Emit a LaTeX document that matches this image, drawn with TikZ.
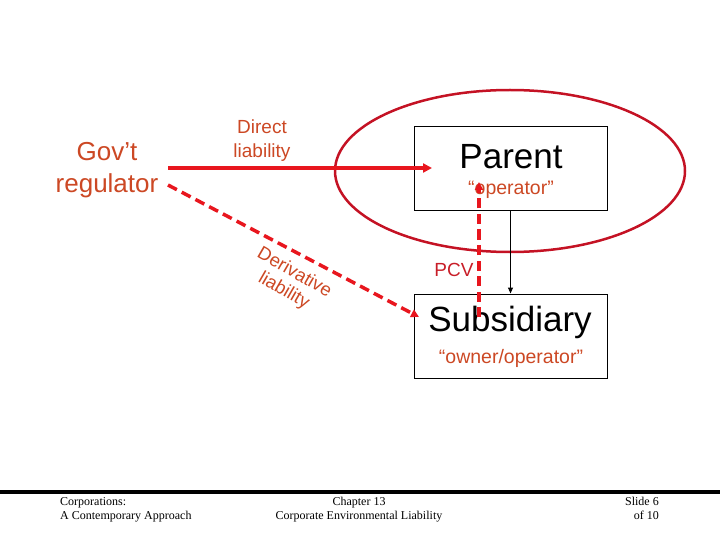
\documentclass[tikz,border=0pt]{standalone}
\usepackage{fontspec}
\setmainfont{Liberation Sans}
\newfontfamily\footfont{Liberation Serif}
\usetikzlibrary{arrows.meta}
\definecolor{txtorange}{RGB}{204,72,36}
\definecolor{linered}{RGB}{232,22,30}
\definecolor{ellred}{RGB}{196,18,36}
\definecolor{pcvred}{RGB}{200,30,40}
\tikzset{
  boxnode/.style={draw=black,line width=1pt,minimum width=193pt,minimum height=84pt,inner sep=0pt},
  bigtxt/.style={font=\fontsize{35}{37}\selectfont,text=black,inner sep=0pt},
  subtxt/.style={font=\fontsize{19.5}{21}\selectfont,text=txtorange,inner sep=0pt},
  redline/.style={draw=linered,line width=3.5pt,-{Triangle[length=9pt,width=9pt]}},
  reddash/.style={draw=linered,line width=3.5pt,dash pattern=on 10pt off 5.5pt,-{Triangle[length=8pt,width=8pt]}},
  foot/.style={font=\footfont\fontsize{12}{14}\selectfont,inner sep=0pt,align=left}
}
\begin{document}
\begin{tikzpicture}[x=1pt,y=-1pt]
\useasboundingbox (0,0) rectangle (720,540);
% boxes
\node[boxnode] (parent) at (510.5,168.5) {};
\node[boxnode] (sub) at (510.5,336) {};
\node[bigtxt] (parenttxt) at (511,157) {Parent};
\node[subtxt] (optxt) at (511,190) {“operator”};
\node[bigtxt] (subtxt) at (510,322) {Subsidiary};
\node[subtxt] (ownop) at (511,358) {“owner/operator”};
% ellipse
\draw[ellred,line width=2.5pt] (510,171) ellipse [x radius=175,y radius=81];
% gov regulator
\node[font=\fontsize{26}{32}\selectfont,text=txtorange,align=center,inner sep=0pt] (gov) at (107,170) {Gov’t\\regulator};
\node[font=\fontsize{19}{24}\selectfont,text=txtorange,align=center,inner sep=0pt] (direct) at (262,141) {Direct\\liability};
\coordinate (govA) at (168,168);
\coordinate (govB) at (168,185);
\coordinate (parL) at (432,168);
\coordinate (subL) at (419,317);
\draw[redline] (govA) -- (parL);
\draw[reddash] (govB) -- (subL);
\node[font=\fontsize{18.5}{21}\selectfont,text=txtorange,align=center,inner sep=0pt,rotate=-30] (deriv) at (289,282) {Derivative\\liability};
% parent to subsidiary
\draw[black,line width=1pt,-{Triangle[length=6pt,width=5pt]}] (parent.south) -- (sub.north);
% PCV
\coordinate (pcvB) at (479,317);
\coordinate (pcvT) at (479,182);
\draw[reddash] (pcvB) -- (pcvT);
\node[font=\fontsize{19}{21}\selectfont,text=pcvred,inner sep=0pt] (pcv) at (454,270) {PCV};
% footer
\draw[black,line width=4pt] (0,492) -- (720,492);
\node[foot,anchor=north west] (f1) at (60,497) {Corporations:\\A Contemporary Approach};
\node[foot,align=center,anchor=north] (f2) at (359,497) {Chapter 13\\Corporate Environmental Liability};
\node[foot,align=right,anchor=north east] (f3) at (659,497) {Slide 6\\of 10};
\end{tikzpicture}
\end{document}
